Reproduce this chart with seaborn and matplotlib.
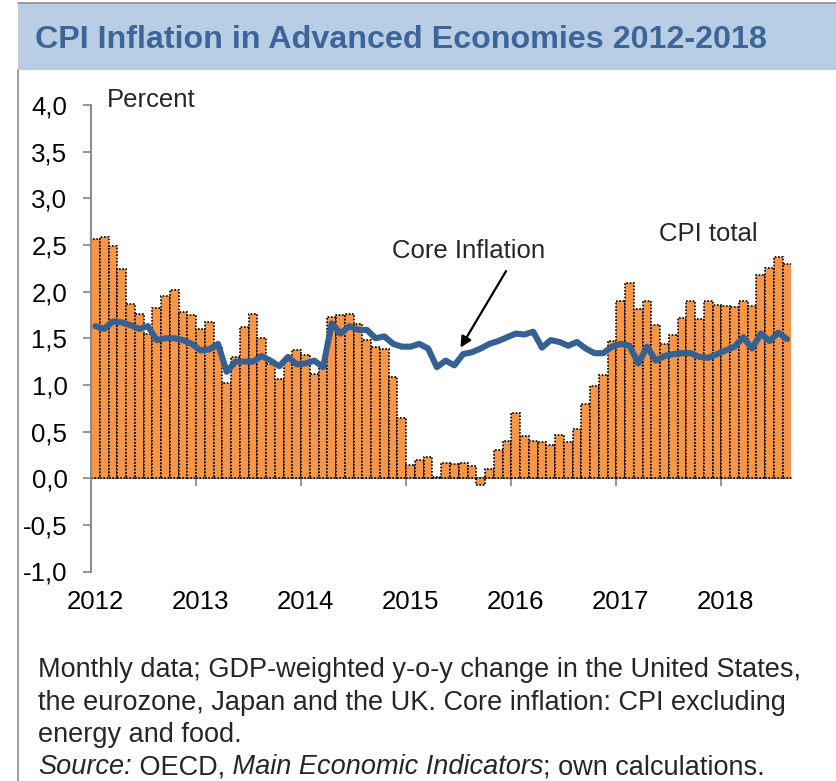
import numpy as np
import pandas as pd
import seaborn as sns
import matplotlib.pyplot as plt
from matplotlib.patches import Rectangle
from matplotlib.lines import Line2D

# monthly data Jan 2012 - Aug 2018
cpi_total = [2.56, 2.58, 2.49, 2.24, 1.87, 1.76, 1.55, 1.82, 1.95, 2.02, 1.78, 1.75,
             1.60, 1.67, 1.40, 1.02, 1.30, 1.62, 1.76, 1.50, 1.22, 1.06, 1.28, 1.37,
             1.32, 1.12, 1.20, 1.73, 1.75, 1.76, 1.65, 1.48, 1.41, 1.38, 1.09, 0.65,
             0.14, 0.20, 0.23, 0.01, 0.16, 0.15, 0.16, 0.13, -0.07, 0.10, 0.30, 0.40,
             0.70, 0.45, 0.40, 0.39, 0.36, 0.46, 0.39, 0.53, 0.79, 0.99, 1.11, 1.47,
             1.90, 2.09, 1.81, 1.90, 1.64, 1.44, 1.54, 1.72, 1.90, 1.71, 1.90, 1.86,
             1.85, 1.84, 1.90, 1.85, 2.18, 2.25, 2.37, 2.30]
core = [1.63, 1.60, 1.68, 1.67, 1.64, 1.60, 1.63, 1.48, 1.50, 1.50, 1.48, 1.44,
        1.37, 1.38, 1.44, 1.14, 1.25, 1.25, 1.25, 1.31, 1.26, 1.20, 1.30, 1.22,
        1.23, 1.26, 1.19, 1.66, 1.55, 1.63, 1.59, 1.59, 1.50, 1.52, 1.44, 1.41,
        1.41, 1.44, 1.39, 1.19, 1.26, 1.21, 1.33, 1.35, 1.39, 1.44, 1.47, 1.51,
        1.55, 1.54, 1.57, 1.40, 1.48, 1.46, 1.42, 1.46, 1.39, 1.34, 1.34, 1.41,
        1.44, 1.42, 1.23, 1.41, 1.26, 1.31, 1.33, 1.34, 1.34, 1.30, 1.29, 1.33,
        1.37, 1.41, 1.51, 1.39, 1.55, 1.47, 1.56, 1.49]
year_labels = ["2012", "2013", "2014", "2015", "2016", "2017", "2018"]
y_ticks = [-1.0, -0.5, 0.0, 0.5, 1.0, 1.5, 2.0, 2.5, 3.0, 3.5, 4.0]

df = pd.DataFrame({"month": range(len(cpi_total)), "cpi": cpi_total, "core": core})

sns.set_style("white")
plt.rcParams["font.family"] = ["Liberation Sans", "DejaVu Sans"]

ORANGE = "#F79646"
BLUE = "#376092"
GRAY = "#8C8C8C"
W, H = 836, 781

fig = plt.figure(figsize=(W / 100, H / 100), dpi=100)
ax = fig.add_axes([91 / W, 209.5 / H, 700.5 / W, 466.5 / H])

sns.barplot(data=df, x="month", y="cpi", color=ORANGE, saturation=1, width=1,
            edgecolor="black", linewidth=1.2, linestyle=(0, (1, 1)), ax=ax, zorder=2)
sns.lineplot(data=df, x="month", y="core", color=BLUE, linewidth=4.4, ax=ax, zorder=3)

ax.set_xlim(-0.5, len(cpi_total) - 0.5)
ax.set_ylim(-1, 4)
ax.set_xlabel("")
ax.set_ylabel("")

# year labels under the plot, no tick marks there
ax.set_xticks(range(0, 80, 12))
ax.set_xticklabels(year_labels)
ax.tick_params(axis="x", length=0, pad=13, labelsize=18.6, labelcolor="black")

ax.set_yticks(y_ticks)
ax.set_yticklabels([f"{v:.1f}".replace(".", ",") for v in y_ticks])
ax.tick_params(axis="y", direction="out", length=6, width=1.3, color=GRAY,
               pad=11, labelsize=18.6, labelcolor="black", left=True)

for s in ["top", "right", "bottom"]:
    ax.spines[s].set_visible(False)
ax.spines["left"].set_color(GRAY)
ax.spines["left"].set_linewidth(1.5)

# zero line with year ticks
sec = ax.secondary_xaxis(0.2)
sec.set_xticks(np.arange(-0.5, 79, 12))
sec.tick_params(axis="x", direction="out", length=6, width=1.3, color=GRAY, labelbottom=False)
sec.spines["bottom"].set_color(GRAY)
sec.spines["bottom"].set_linewidth(1.5)

# annotations
ax.text(1.27, 4.05, "Percent", fontsize=18.5, ha="left", va="center")
ax.text(70.0, 2.62, "CPI total", fontsize=18.5, ha="center", va="center")
ax.text(42.6, 2.43, "Core Inflation", fontsize=18.5, ha="center", va="center")
ax.annotate("", xy=(41.7, 1.40), xytext=(46.9, 2.22),
            arrowprops=dict(arrowstyle="-|>", color="black", lw=1.6,
                            mutation_scale=16, shrinkA=0, shrinkB=0))

# header band and frame
fig.add_artist(Rectangle((18 / W, 1 - 70 / H), 1 - 18 / W, 67 / H, transform=fig.transFigure,
                         facecolor="#B9CDE5", edgecolor="none", zorder=0))
fig.add_artist(Line2D([18 / W, 1], [1 - 3 / H, 1 - 3 / H], color=GRAY, lw=1.2))
fig.add_artist(Line2D([18 / W, 18 / W], [0, 1 - 70 / H], color=GRAY, lw=1.2))
fig.text(35 / W, 1 - 40 / H, "CPI Inflation in Advanced Economies 2012-2018",
         fontsize=23.2, fontweight="bold", color="#3C6699", ha="left", va="center")

# footnote
foot = ["Monthly data; GDP-weighted y-o-y change in the United States,",
        "the eurozone, Japan and the UK. Core inflation: CPI excluding",
        "energy and food."]
for i, line in enumerate(foot):
    fig.text(38 / W, 1 - (670 + 32.5 * i) / H, line, fontsize=19.5, ha="left", va="center")

renderer = fig.canvas.get_renderer()
x0 = 38
for piece, style in [("Source:", "italic"), (" OECD,", "normal"),
                     (" Main Economic Indicators", "italic"), ("; own calculations.", "normal")]:
    t = fig.text(x0 / W, 1 - 767 / H, piece, fontsize=19.5, style=style, ha="left", va="center")
    x0 = t.get_window_extent(renderer).x1

fig.savefig("out.png", dpi=100)
